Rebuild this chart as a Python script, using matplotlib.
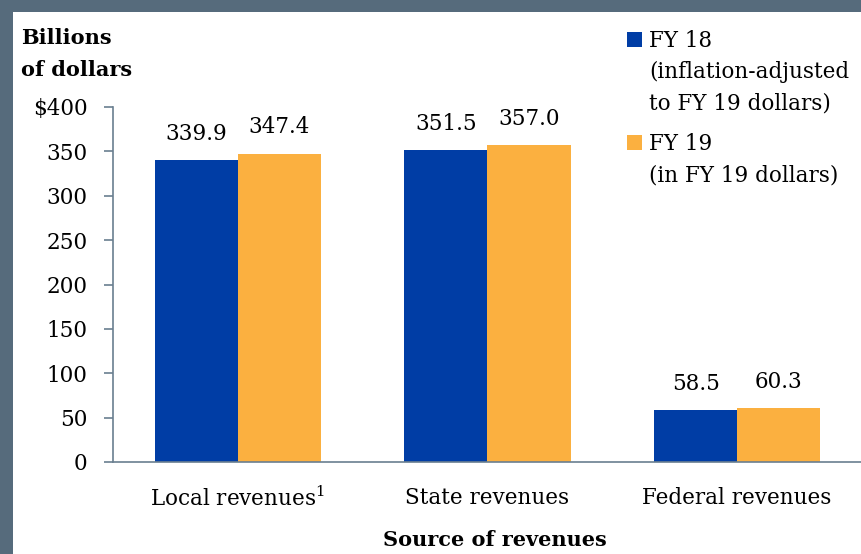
import matplotlib.pyplot as plt
from matplotlib.patches import Rectangle
import numpy as np

categories = ['Local revenues$^{1}$', 'State revenues', 'Federal revenues']
fy18 = [339.9, 351.5, 58.5]
fy19 = [347.4, 357.0, 60.3]
yticks = [0, 50, 100, 150, 200, 250, 300, 350, 400]
ytick_labels = ['0', '50', '100', '150', '200', '250', '300', '350', '$400']
legend_labels = ['FY 18\n(inflation-adjusted\nto FY 19 dollars)', 'FY 19\n(in FY 19 dollars)']

BLUE = '#003DA5'
ORANGE = '#FBB040'
FRAME = '#566B7C'
SPINE = '#6A7F90'
FS = 15.5

plt.rcParams['font.family'] = 'DejaVu Serif'
plt.rcParams['mathtext.fontset'] = 'dejavuserif'

W, H = 862, 554
fig = plt.figure(figsize=(W / 100, H / 100), dpi=100, facecolor=FRAME)
# white panel inside the slate frame
fig.patches.append(Rectangle((13 / W, 0), 1 - 13 / W, 1 - 12 / H,
                             transform=fig.transFigure, facecolor='white',
                             edgecolor='none', zorder=-10))

ax = fig.add_axes([113 / W, (H - 462) / H, (W - 113) / W, (462 - 107) / H])
ax.set_facecolor('none')

x = np.arange(len(categories))
w = 0.333
b1 = ax.bar(x - w / 2, fy18, w, color=BLUE)
b2 = ax.bar(x + w / 2, fy19, w, color=ORANGE)

for bars, vals in ((b1, fy18), (b2, fy19)):
    for r, v in zip(bars, vals):
        ax.annotate(f'{v:.1f}', (r.get_x() + r.get_width() / 2, v),
                    xytext=(0, 11), textcoords='offset points',
                    ha='center', va='bottom', fontsize=FS)

ax.set_xlim(-0.5, 2.5)
ax.set_ylim(0, 400)
ax.set_yticks(yticks)
ax.set_yticklabels(ytick_labels, fontsize=FS)
ax.set_xticks(x)
ax.set_xticklabels(categories, fontsize=FS)
ax.tick_params(axis='x', length=0, pad=18)
ax.tick_params(axis='y', length=6.5, width=1.2, color=SPINE, pad=12)

for s in ('top', 'right'):
    ax.spines[s].set_visible(False)
for s in ('left', 'bottom'):
    ax.spines[s].set_color(SPINE)
    ax.spines[s].set_linewidth(1.2)

ax.set_xlabel('Source of revenues', fontsize=15, fontweight='bold')
ax.xaxis.set_label_coords((495 - 113) / (W - 113), -(540 - 462) / (462 - 107))
ax.xaxis.label.set_va('center')

fig.text(21 / W, 1 - 28 / H, 'Billions\nof dollars', fontsize=15,
         fontweight='bold', va='top', ha='left', linespacing=1.72)

# legend: square swatch next to the first line of each label
for color, label, top in ((BLUE, legend_labels[0], 32), (ORANGE, legend_labels[1], 135)):
    fig.patches.append(Rectangle((627 / W, 1 - (top + 15) / H), 15 / W, 15 / H,
                                 transform=fig.transFigure, facecolor=color,
                                 edgecolor='none'))
    fig.text(649 / W, 1 - (top - 2) / H, label, fontsize=FS, va='top', ha='left',
             linespacing=1.55)

fig.savefig('out.png', dpi=100, facecolor=fig.get_facecolor())
